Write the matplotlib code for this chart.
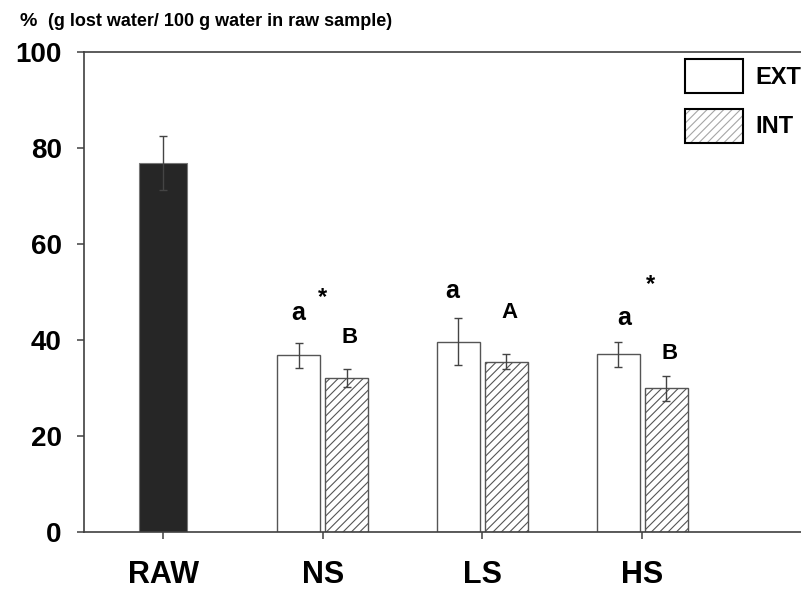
import matplotlib.pyplot as plt
import numpy as np

plt.rcParams['font.family'] = ['Liberation Sans', 'DejaVu Sans']
plt.rcParams['hatch.linewidth'] = 0.8

# 数据
groups = ['RAW', 'NS', 'LS', 'HS']
raw_mean, raw_err = 76.9, 5.6
ext_mean = [36.8, 39.6, 37.0]
ext_err = [2.6, 4.9, 2.6]
int_mean = [32.1, 35.5, 29.9]
int_err = [1.95, 1.6, 2.6]

# 显著性标记 (文字, x, y, 字号)
marks = [('a', 0.845, 44.2, 18), ('*', 0.996, 47.6, 17), ('B', 1.17, 39.4, 16),
         ('a', 1.81, 48.8, 18), ('A', 2.167, 44.6, 16),
         ('a', 2.887, 43.1, 18), ('*', 3.05, 50.2, 17), ('B', 3.17, 36.0, 16)]

fig = plt.figure(figsize=(8.01, 5.90), dpi=100)
ax = fig.add_axes([84/801, 58/590, 717/801, 480/590])

x = np.arange(len(groups))
xt = x[1:]
w = 0.27
ekw = dict(ecolor='#444444', elinewidth=1, capsize=3, capthick=1)

ax.bar(0, raw_mean, 0.30, yerr=raw_err, color='#262626', edgecolor='#777777', linewidth=0.8, error_kw=ekw)
b1 = ax.bar(xt - 0.15, ext_mean, w, yerr=ext_err, color='white', edgecolor='#555555',
            linewidth=1, error_kw=ekw, label='EXT')
b2 = ax.bar(xt + 0.15, int_mean, w, yerr=int_err, color='white', edgecolor='#555555',
            linewidth=1, hatch='////', error_kw=ekw, label='INT')

for t, mx, my, fs in marks:
    ax.text(mx, my, t, ha='center', va='baseline', fontsize=fs, fontweight='bold')

ax.set_xlim(-0.495, 3.995)
ax.set_ylim(0, 100)
ax.set_xticks(x)
ax.set_xticklabels(groups, fontsize=22, fontweight='bold')
ax.set_yticks(np.arange(0, 101, 20))
ax.set_yticklabels([str(v) for v in range(0, 101, 20)], fontsize=20, fontweight='bold')
ax.tick_params(axis='y', direction='out', length=5, width=1.1, color='#404040', pad=11)
ax.tick_params(axis='x', direction='out', length=5, width=1.1, color='#404040', pad=15)
for s in ['left', 'bottom', 'top']:
    ax.spines[s].set_color('#404040')
    ax.spines[s].set_linewidth(1.2)
ax.spines['right'].set_visible(False)

leg = ax.legend(loc='upper right', bbox_to_anchor=(1.0, 0.985), frameon=False,
                prop={'size': 17, 'weight': 'bold'}, handlelength=2.45, handleheight=1.8,
                handletextpad=0.5, labelspacing=0.7, borderpad=0, borderaxespad=0)
for h in leg.legend_handles:
    h.set_edgecolor('black')
    h.set_linewidth(1.5)
leg.legend_handles[1]._hatch_color = (0.65, 0.65, 0.65, 1)

fig.text(20/801, 1 - 26/590, '%', fontsize=14, fontweight='bold', va='baseline')
fig.text(48/801, 1 - 26/590, '(g lost water/ 100 g water in raw sample)', fontsize=13,
         fontweight='bold', va='baseline')

plt.savefig('out.png', dpi=100)
